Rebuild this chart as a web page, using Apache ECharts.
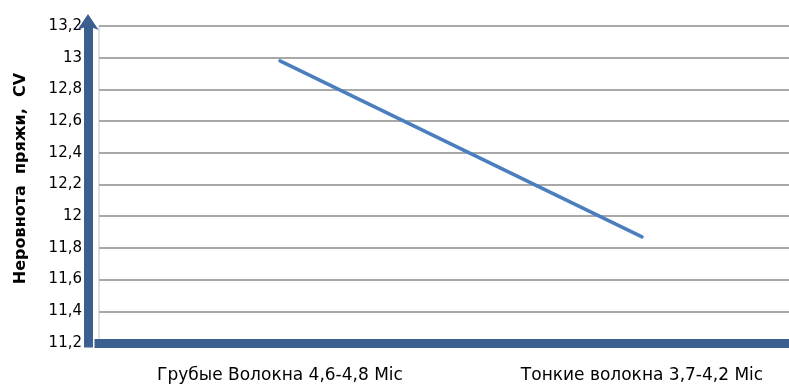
<!DOCTYPE html>
<html>
<head>
<meta charset="utf-8">
<script src="https://cdn.jsdelivr.net/npm/echarts@6/dist/echarts.min.js"></script>
<style>
  html, body { margin: 0; padding: 0; background: #fff; }
  #chart { width: 789px; height: 392px; }
</style>
</head>
<body>
<div id="chart"></div>
<script>
// Yarn unevenness (CV) for coarse vs. fine fibres
const categories = ['Грубые Волокна 4,6-4,8 Mic', 'Тонкие волокна 3,7-4,2 Mic'];
const cvValues = [12.98, 11.87];
const yMin = 11.2;
const yMax = 13.2;
const yStep = 0.2;
const yTitle = 'Неровнота  пряжи,  CV';

const axisBlue = '#3B5F8E';
const font = '"DejaVu Sans", "Noto Sans", sans-serif';

const chart = echarts.init(document.getElementById('chart'), null, { renderer: 'canvas' });

chart.setOption({
  animation: false,
  backgroundColor: '#fff',
  grid: {
    left: 99,
    top: 26,
    width: 724,
    height: 317,
    show: true,
    borderColor: '#c4c4c4',
    borderWidth: 1,
    containLabel: false,
    outerBoundsMode: 'none'
  },
  xAxis: {
    type: 'category',
    data: categories,
    boundaryGap: true,
    axisLine: {
      show: true,
      lineStyle: { color: axisBlue, width: 9, cap: 'square' }
    },
    axisTick: { show: false },
    splitLine: { show: false },
    axisLabel: {
      margin: 24,
      color: '#000',
      fontFamily: font,
      fontSize: 17
    }
  },
  yAxis: {
    type: 'value',
    min: yMin,
    max: yMax,
    interval: yStep,
    offset: 11,
    name: yTitle,
    nameLocation: 'middle',
    nameGap: 59,
    nameTextStyle: {
      color: '#000',
      fontFamily: font,
      fontWeight: 'bold',
      fontSize: 16,
      padding: [0, 0, 0, 12]
    },
    axisLine: {
      show: true,
      symbol: ['none', 'arrow'],
      symbolSize: [16, 16],
      symbolOffset: [0, 12],
      lineStyle: { color: axisBlue, width: 9, cap: 'square' }
    },
    axisTick: { show: false },
    splitLine: {
      show: true,
      lineStyle: { color: '#a8a8a8', width: 2 }
    },
    axisLabel: {
      margin: 6,
      color: '#000',
      fontFamily: font,
      fontSize: 15,
      formatter: v => String(Math.round(v * 10) / 10).replace('.', ',')
    }
  },
  series: [{
    type: 'line',
    data: cvValues,
    symbol: 'none',
    lineStyle: { color: '#4A7EBF', width: 3.5, cap: 'round' }
  }]
});
</script>
</body>
</html>
